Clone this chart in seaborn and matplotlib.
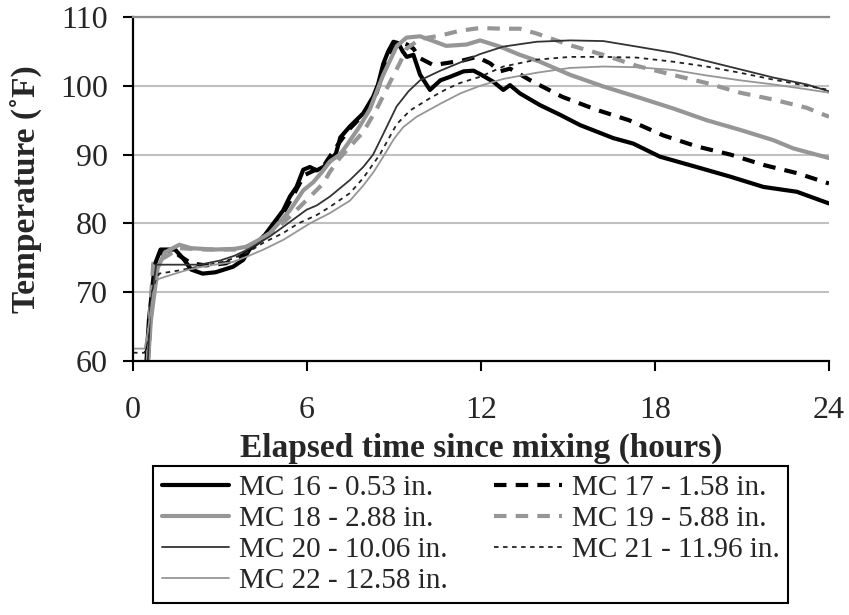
import matplotlib
matplotlib.use("Agg")
import matplotlib.pyplot as plt
import seaborn as sns
import pandas as pd

# ---------------- data (hours, °F) ----------------
mc16_t = [0, 0.45, 0.55, 0.75, 0.95, 1.45, 1.6, 1.75, 2.0, 2.4, 2.85, 3.45, 3.8, 4.03, 4.4, 4.72, 5.18, 5.41, 5.64, 5.87,
          6.1, 6.33, 6.56, 6.79, 7.0, 7.15, 7.48, 7.94, 8.28, 8.45, 8.63, 8.8, 8.98, 9.15, 9.3, 9.44, 9.67, 9.9, 10.24,
          10.6, 10.93, 11.4, 11.74, 11.97, 12.42, 12.77, 13.0, 13.34, 14.03, 14.72, 15.41, 16.56, 17.25, 18.17, 19.43,
          20.59, 21.74, 22.89, 24.0]
mc16_v = [58, 59, 66, 74, 76.2, 76.2, 75.5, 74.8, 73.3, 72.7, 72.9, 73.7, 74.7, 76.3, 77.5, 79.3, 81.9, 83.9, 85.3, 87.8,
          88.2, 87.7, 88.2, 89.0, 90.2, 92.5, 94.1, 96.0, 98.4, 100.2, 103.2, 105.0, 106.4, 106.2, 105.0, 104.2, 104.5,
          101.6, 99.4, 100.8, 101.3, 102.1, 102.2, 101.7, 100.6, 99.4, 100.1, 98.9, 97.2, 95.8, 94.3, 92.4, 91.6, 89.7,
          88.2, 86.8, 85.3, 84.6, 82.9]

mc17_t = [0, 0.5, 0.6, 0.8, 1.0, 1.4, 1.6, 2.0, 2.5, 3.2, 3.8, 4.1, 4.72, 5.18, 5.53, 5.9, 6.2, 6.56, 7.14, 7.48, 7.94,
          8.4, 8.75, 9.05, 9.21, 9.45, 9.67, 9.9, 10.36, 10.8, 11.39, 11.85, 12.3, 12.66, 13.0, 13.7, 14.8, 15.99, 17.1,
          18.28, 19.43, 20.6, 21.74, 22.9, 24.0]
mc17_v = [58, 59, 66, 74, 76.0, 76.0, 75.3, 74.2, 73.9, 74.2, 75.4, 76.5, 79.0, 81.5, 84.1, 87.0, 87.6, 88.3, 91.9, 93.8,
          95.8, 99.0, 103.5, 105.8, 106.4, 106.0, 105.4, 104.0, 103.0, 103.3, 103.7, 104.2, 103.3, 102.1, 102.5, 100.8,
          98.4, 96.5, 95.0, 92.8, 91.2, 90.0, 88.5, 87.3, 85.8]

mc18_t = [0, 0.5, 0.62, 0.85, 1.1, 1.6, 2.0, 2.8, 3.5, 3.9, 4.3, 4.72, 5.41, 5.87, 6.22, 6.56, 6.79, 7.13, 7.36, 7.8,
          8.17, 8.62, 9.1, 9.43, 9.9, 10.36, 10.8, 11.5, 11.97, 12.65, 13.34, 14.03, 15.07, 16.22, 17.37, 18.63, 19.78,
          20.93, 22.08, 22.77, 24.0]
mc18_v = [58, 59, 66, 73.5, 75.8, 76.9, 76.4, 76.2, 76.3, 76.6, 77.5, 78.6, 81.9, 84.8, 86.0, 87.7, 89.0, 90.0, 91.3,
          94.0, 96.6, 101.5, 105.8, 107.0, 107.2, 106.5, 105.8, 106.0, 106.6, 105.7, 104.5, 103.5, 101.6, 99.9, 98.4,
          96.7, 95.0, 93.6, 92.1, 90.9, 89.5]

mc19_t = [0, 0.5, 0.6, 0.7, 1.15, 1.6, 2.5, 3.5, 4.0, 4.72, 5.41, 5.87, 6.56, 6.79, 7.13, 7.94, 8.4, 8.86, 9.21, 9.43,
          9.9, 10.6, 11.27, 11.96, 12.77, 13.34, 13.92, 15.07, 16.22, 17.37, 18.6, 19.78, 20.93, 22.08, 23.23, 24.0]
mc19_v = [58, 59, 68, 74.2, 75.2, 76.4, 76.2, 76.2, 76.6, 78.4, 81.0, 82.9, 85.8, 87.5, 89.5, 93.3, 96.6, 100.5, 103.4,
          105.4, 106.8, 107.3, 108.0, 108.4, 108.3, 108.3, 107.6, 105.9, 104.5, 102.9, 101.6, 100.4, 99.0, 98.0, 96.8,
          95.5]

mc20_t = [0, 0.5, 0.6, 0.8, 1.5, 2.3, 3.0, 3.5, 4.0, 4.72, 5.18, 5.99, 6.33, 6.79, 7.48, 7.94, 8.28, 8.63, 9.09, 9.5,
          9.9, 10.6, 11.29, 11.96, 12.77, 13.92, 15.07, 16.22, 17.37, 18.63, 19.78, 20.93, 22.08, 23.23, 24.0]
mc20_v = [58, 59, 68, 74.0, 74.0, 74.0, 74.6, 75.3, 76.3, 78.1, 79.5, 82.0, 82.6, 83.9, 86.3, 88.2, 90.0, 93.0, 97.0,
          99.2, 100.8, 102.2, 103.4, 104.6, 105.7, 106.4, 106.6, 106.5, 105.7, 104.8, 103.6, 102.4, 101.2, 100.2, 99.2]

mc21_t = [0, 0.4, 0.5, 0.65, 0.9, 1.5, 2.0, 3.0, 3.45, 4.0, 4.5, 5.18, 5.7, 6.33, 6.79, 7.48, 7.94, 8.51, 9.09, 9.55,
          10.24, 10.8, 11.27, 11.96, 12.77, 13.92, 15.07, 16.22, 17.37, 18.63, 19.78, 20.93, 22.08, 23.23, 24.0]
mc21_v = [61.2, 61.2, 63, 70, 72.7, 73.1, 73.5, 74.3, 74.9, 75.9, 77.2, 78.6, 80.0, 81.2, 82.4, 84.4, 86.6, 90.0, 94.4,
          96.4, 98.2, 99.5, 100.4, 101.3, 102.8, 103.8, 104.2, 104.2, 104.1, 103.5, 102.8, 101.9, 100.9, 100.0, 99.4]

mc22_t = [0, 0.4, 0.5, 0.7, 0.86, 1.3, 1.84, 2.5, 3.45, 4.0, 4.5, 5.18, 6.1, 6.79, 7.48, 7.94, 8.3, 8.63, 9.0, 9.32,
          9.78, 10.6, 11.29, 11.97, 12.77, 13.92, 15.07, 16.22, 17.37, 18.63, 19.78, 20.93, 22.08, 23.23, 24.0]
mc22_v = [61.8, 61.8, 64, 70, 71.9, 72.5, 73.2, 73.8, 74.4, 75.3, 76.2, 77.6, 80.0, 81.5, 83.3, 85.5, 87.5, 89.7, 92.3,
          94.0, 95.5, 97.4, 98.9, 100.0, 101.0, 101.9, 102.6, 102.8, 102.7, 102.3, 101.5, 100.8, 100.2, 99.5, 99.0]

labels = ["MC 16 - 0.53 in.", "MC 17 - 1.58 in.", "MC 18 - 2.88 in.", "MC 19 - 5.88 in.",
          "MC 20 - 10.06 in.", "MC 21 - 11.96 in.", "MC 22 - 12.58 in."]
times = [mc16_t, mc17_t, mc18_t, mc19_t, mc20_t, mc21_t, mc22_t]
temps = [mc16_v, mc17_v, mc18_v, mc19_v, mc20_v, mc21_v, mc22_v]

x_ticks = [0, 6, 12, 18, 24]
y_ticks = [60, 70, 80, 90, 100, 110]

# ---------------- styles ----------------
styles = [
    dict(color="black", lw=3.0, ls="-"),
    dict(color="black", lw=3.0, ls=(0, (3, 2.2))),
    dict(color="#969696", lw=3.0, ls="-"),
    dict(color="#969696", lw=3.0, ls=(0, (3, 2.2))),
    dict(color="#333333", lw=1.3, ls="-"),
    dict(color="#222222", lw=1.3, ls=(0, (2.5, 2.5))),
    dict(color="#969696", lw=1.3, ls="-"),
]

sns.set_theme(style="white")
plt.rcParams["font.family"] = ["Liberation Serif", "DejaVu Serif"]

fig = plt.figure(figsize=(8.49, 6.15), dpi=100)
ax = fig.add_axes([133 / 849, 1 - 361 / 615, 696 / 849, 344 / 615])

lines = {}
for lab, t, v, st in zip(labels, times, temps, styles):
    df = pd.DataFrame({"t": t, "v": v})
    sns.lineplot(data=df, x="t", y="v", ax=ax, color=st["color"], linewidth=st["lw"],
                 linestyle=st["ls"], label=lab, sort=False, estimator=None)
    lines[lab] = ax.get_lines()[-1]

ax.set_xlim(0, 24)
ax.set_ylim(60, 110)
ax.set_xticks(x_ticks)
ax.set_yticks(y_ticks)
ax.yaxis.grid(True, color="#c0c0c0", lw=1.5)
ax.xaxis.grid(False)
ax.set_axisbelow(True)

for s in ["left", "bottom"]:
    ax.spines[s].set_color("black")
    ax.spines[s].set_linewidth(1.6)
ax.spines["top"].set_color("#8c8c8c")
ax.spines["top"].set_linewidth(1.6)
ax.spines["right"].set_visible(False)

ax.tick_params(axis="both", which="major", direction="out", length=7, width=1.5, color="black",
               labelsize=23, left=True, bottom=True)
ax.tick_params(axis="x", pad=18)
ax.tick_params(axis="y", pad=11)

ax.set_xlabel("Elapsed time since mixing (hours)", fontsize=24, fontweight="bold")
ax.set_ylabel("Temperature (˚F)", fontsize=24, fontweight="bold")
ax.xaxis.set_label_coords(0.5, (361 - 433) / 344)
ax.yaxis.set_label_coords((42 - 133) / 696, 0.5)

# legend: row-wise order like the reference (col 1: 16,18,20,22 ; col 2: 17,19,21)
order = [0, 2, 4, 6, 1, 3, 5]
ax.get_legend().remove()
leg = fig.legend([lines[labels[i]] for i in order], [labels[i] for i in order],
                 ncol=2, loc="upper left", bbox_to_anchor=(153 / 849, 1 - 466 / 615),
                 bbox_transform=fig.transFigure, borderaxespad=0, fontsize=21,
                 frameon=True, fancybox=False, framealpha=1, edgecolor="black",
                 handlelength=2.3, handletextpad=0.35, columnspacing=1.6, labelspacing=0.16,
                 borderpad=0.3)
leg.get_frame().set_linewidth(1.5)

fig.savefig("out.png", dpi=100)
